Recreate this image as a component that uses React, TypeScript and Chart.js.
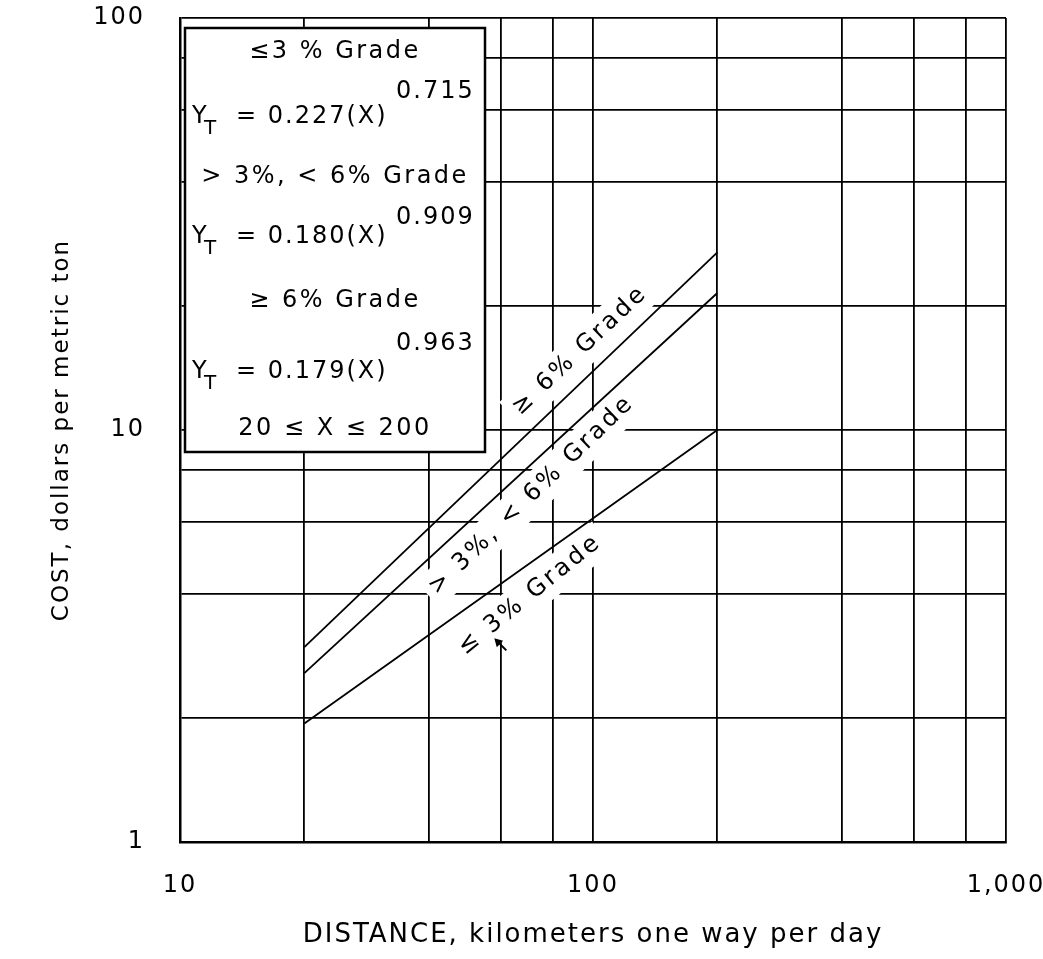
import React, { useEffect, useRef } from 'react';
import { Chart, registerables } from 'chart.js';

Chart.register(...registerables);

const FONT = '"DejaVu Sans", "Liberation Sans", sans-serif';

// ---- data ----
const distanceKm = [20, 200];
const costGe6 = [2.97, 27];
const cost3to6 = [2.57, 21.5];
const costLe3 = [1.94, 10];

// ---- axes ----
const xLabelValues = [10, 100, 1000];
const xLabelTexts = ['10', '100', '1,000'];
const yLabelValues = [1, 10, 100];
const yLabelTexts = ['1', '10', '100'];
const xGridValues = [10, 20, 40, 60, 80, 100, 200, 400, 600, 800, 1000];
const yGridValues = [1, 2, 4, 6, 8, 10, 20, 40, 60, 80, 100];

// ---- annotations ----
const lineLabelTexts = ['≥ 6% Grade', '> 3%, < 6% Grade', '≤ 3% Grade'];
const lineLabelX = [93, 71, 70.4];
const lineLabelY = [15.6, 6.95, 3.98];
const lineLabelAngles = [-43.5, -44, -39];
const pointerAt = { x: 60, y: 3.0 };

const gradeHeadings = ['≤3 % Grade', '> 3%, < 6% Grade', '≥ 6% Grade'];
const coefficients = ['0.227', '0.180', '0.179'];
const exponents = ['0.715', '0.909', '0.963'];
const rangeNote = '20 ≤ X ≤ 200';

// layout of the equation box (pixels relative to box)
const BOX = { dx: 5, dy: 10, w: 300, h: 424 };
const headingRows = [24, 149, 273];
const eqRows = [89, 209, 344];
const supRows = [64, 190, 316];
const rangeRow = 401;

const annotationPlugin = {
  id: 'annotationPlugin',
  beforeDraw(chart: any) {
    chart.ctx.letterSpacing = '2px';
  },
  beforeDatasetsDraw(chart: any) {
    const { ctx, chartArea: ca, scales } = chart;
    ctx.save();
    const bx = ca.left + BOX.dx;
    const by = ca.top + BOX.dy;
    ctx.fillStyle = '#fff';
    ctx.fillRect(bx, by, BOX.w, BOX.h);
    ctx.strokeStyle = '#000';
    ctx.lineWidth = 2.5;
    ctx.strokeRect(bx, by, BOX.w, BOX.h);
    ctx.font = `24px ${FONT}`;
    ctx.letterSpacing = '3px';
    lineLabelTexts.forEach((t, i) => {
      const px = scales.x.getPixelForValue(lineLabelX[i]);
      const py = scales.y.getPixelForValue(lineLabelY[i]);
      const w = ctx.measureText(t).width;
      ctx.save();
      ctx.translate(px, py);
      ctx.rotate((lineLabelAngles[i] * Math.PI) / 180);
      ctx.fillStyle = '#fff';
      ctx.fillRect(-w / 2 - 6, -18, w + 12, 36);
      ctx.restore();
    });
    ctx.restore();
  },
  afterDatasetsDraw(chart: any) {
    const { ctx, chartArea: ca, scales } = chart;
    ctx.save();
    ctx.fillStyle = '#000';
    ctx.textBaseline = 'middle';
    ctx.font = `24px ${FONT}`;
    ctx.letterSpacing = '3px';
    ctx.textAlign = 'center';
    lineLabelTexts.forEach((t, i) => {
      const px = scales.x.getPixelForValue(lineLabelX[i]);
      const py = scales.y.getPixelForValue(lineLabelY[i]);
      ctx.save();
      ctx.translate(px, py);
      ctx.rotate((lineLabelAngles[i] * Math.PI) / 180);
      ctx.fillText(t, 0, 0);
      ctx.restore();
    });
    // small pointer mark (arrowhead pointing up-left)
    {
      const px = scales.x.getPixelForValue(pointerAt.x);
      const py = scales.y.getPixelForValue(pointerAt.y);
      ctx.save();
      ctx.translate(px, py);
      ctx.rotate(Math.PI / 4);
      ctx.strokeStyle = '#000';
      ctx.lineWidth = 2;
      ctx.beginPath();
      ctx.moveTo(-8, 0);
      ctx.lineTo(7, 0);
      ctx.stroke();
      ctx.beginPath();
      ctx.moveTo(-10, 0);
      ctx.lineTo(-2, -4.5);
      ctx.lineTo(-2, 4.5);
      ctx.closePath();
      ctx.fill();
      ctx.restore();
    }
    const bx = ca.left + BOX.dx;
    const by = ca.top + BOX.dy;
    const cx = bx + BOX.w / 2;
    ctx.letterSpacing = '2.5px';
    gradeHeadings.forEach((h, i) => {
      ctx.font = `24px ${FONT}`;
      ctx.textAlign = 'center';
      ctx.fillText(h, cx, by + headingRows[i]);
      ctx.textAlign = 'left';
      ctx.fillText('Y', bx + 7, by + eqRows[i]);
      ctx.font = `20px ${FONT}`;
      ctx.fillText('T', bx + 19, by + eqRows[i] + 12);
      ctx.font = `24px ${FONT}`;
      ctx.letterSpacing = '2px';
      ctx.fillText(`= ${coefficients[i]}(X)`, bx + 51, by + eqRows[i]);
      ctx.fillText(exponents[i], bx + 211, by + supRows[i]);
      ctx.letterSpacing = '2.5px';
    });
    ctx.textAlign = 'center';
    ctx.fillText(rangeNote, cx, by + rangeRow);
    ctx.restore();
  },
};

const zeroPad = (scale: any) => {
  scale.paddingTop = 0;
  scale.paddingBottom = 0;
  scale.paddingLeft = 0;
  scale.paddingRight = 0;
};

export default function App() {
  const ref = useRef<HTMLCanvasElement | null>(null);

  useEffect(() => {
    if (!ref.current) return;
    const mk = (ys: number[]) => distanceKm.map((x, i) => ({ x, y: ys[i] }));
    const lineStyle = {
      borderColor: '#000',
      borderWidth: 1.8,
      pointRadius: 0,
      fill: false,
      tension: 0,
    };
    const chart = new Chart(ref.current, {
      type: 'line',
      data: {
        datasets: [
          { label: '≥ 6% Grade', data: mk(costGe6), ...lineStyle },
          { label: '> 3%, < 6% Grade', data: mk(cost3to6), ...lineStyle },
          { label: '≤ 3% Grade', data: mk(costLe3), ...lineStyle },
        ],
      },
      options: {
        responsive: false,
        devicePixelRatio: 1,
        animation: false,
        layout: { padding: { top: 18, right: 37, left: 0, bottom: 0 } },
        plugins: {
          legend: { display: false },
          tooltip: { enabled: false },
        },
        scales: {
          x: {
            type: 'logarithmic',
            min: 10,
            max: 1000,
            afterBuildTicks: (scale: any) => {
              scale.ticks = xGridValues.map((v) => ({ value: v }));
            },
            afterFit: (scale: any) => {
              scale.height = 117;
              zeroPad(scale);
            },
            ticks: {
              autoSkip: false,
              maxRotation: 0,
              padding: 29,
              color: '#000',
              font: { family: FONT, size: 24 },
              callback: (v: any) => {
                const i = xLabelValues.indexOf(Number(v));
                return i >= 0 ? xLabelTexts[i] : '';
              },
            },
            grid: { color: '#000', lineWidth: 1.8, drawTicks: false },
            border: { display: true, color: '#000', width: 2.5 },
            title: {
              display: true,
              text: 'DISTANCE, kilometers one way per day',
              color: '#000',
              font: { family: FONT, size: 26 },
              padding: { top: 0, bottom: 8 },
            },
          },
          y: {
            type: 'logarithmic',
            min: 1,
            max: 100,
            afterBuildTicks: (scale: any) => {
              scale.ticks = yGridValues.map((v) => ({ value: v }));
            },
            afterFit: (scale: any) => {
              scale.width = 180;
              zeroPad(scale);
            },
            ticks: {
              autoSkip: false,
              padding: 35,
              color: '#000',
              font: { family: FONT, size: 24 },
              callback: (v: any) => {
                const i = yLabelValues.indexOf(Number(v));
                return i >= 0 ? yLabelTexts[i] : '';
              },
            },
            grid: { color: '#000', lineWidth: 1.8, drawTicks: false },
            border: { display: true, color: '#000', width: 2.5 },
            title: {
              display: true,
              text: 'COST, dollars per metric ton',
              color: '#000',
              font: { family: FONT, size: 23 },
              padding: { top: 48, bottom: 0 },
            },
          },
        },
      },
      plugins: [annotationPlugin],
    } as any);
    return () => chart.destroy();
  }, []);

  return (
    <div style={{ position: 'absolute', left: 0, top: 0, width: 1043, height: 959, background: '#fff' }}>
      <canvas ref={ref} width={1043} height={959} style={{ display: 'block' }} />
    </div>
  );
}
